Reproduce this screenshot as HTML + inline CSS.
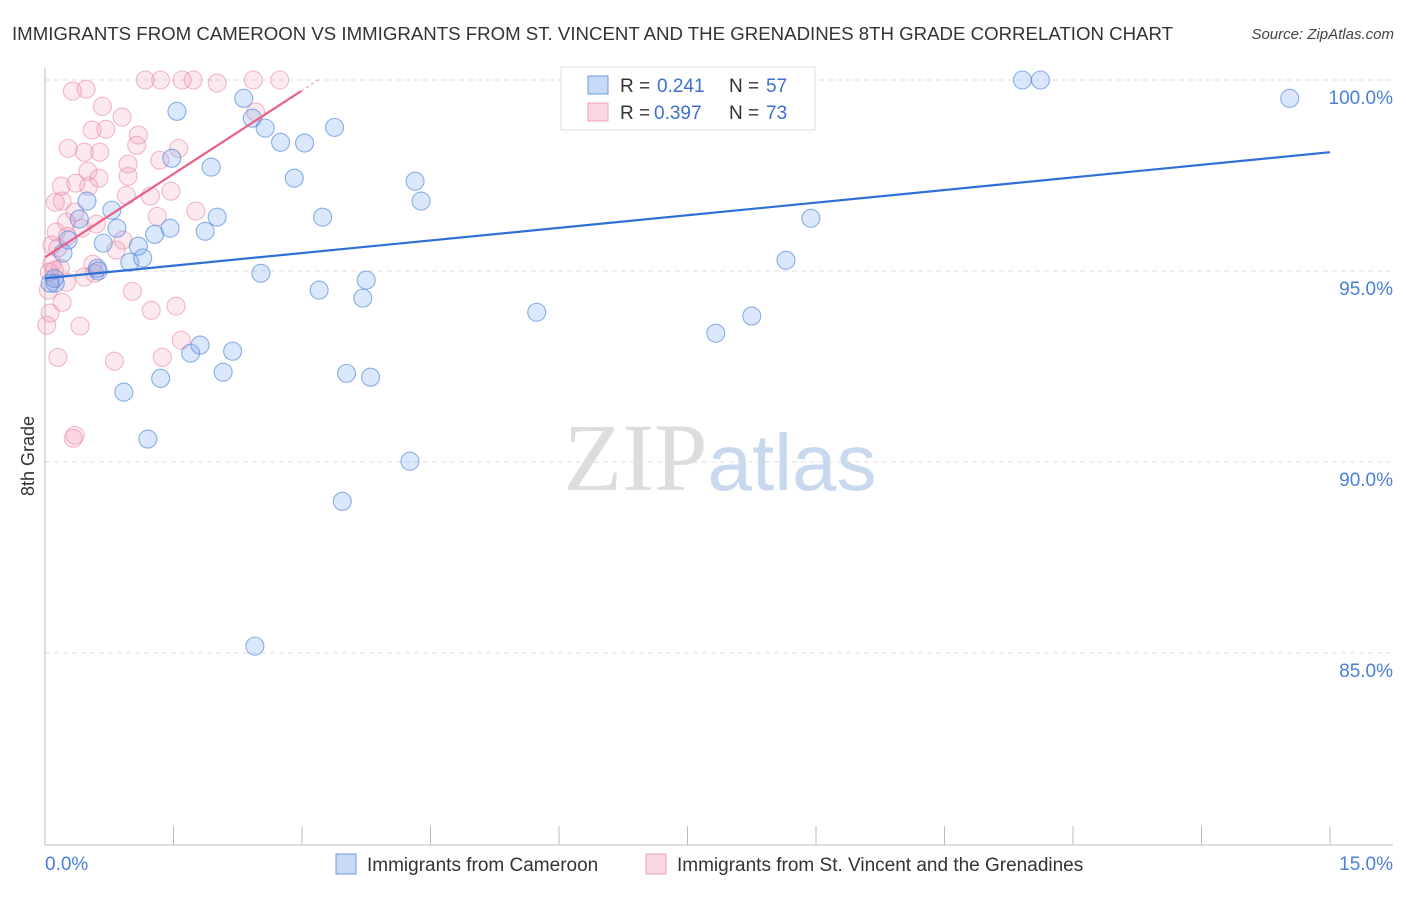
<!DOCTYPE html>
<html><head><meta charset="utf-8"><style>
body{margin:0;background:#fff;font-family:"Liberation Sans",sans-serif}
svg text{font-family:"Liberation Sans",sans-serif}
</style></head><body>
<svg id="chart" width="1406" height="892" viewBox="0 0 1406 892">
<text x="12" y="40" font-size="18.5" fill="#333" textLength="1161" lengthAdjust="spacingAndGlyphs">IMMIGRANTS FROM CAMEROON VS IMMIGRANTS FROM ST. VINCENT AND THE GRENADINES 8TH GRADE CORRELATION CHART</text>
<text x="1394" y="39" font-size="15" fill="#444" font-style="italic" text-anchor="end">Source: ZipAtlas.com</text>
<text x="720" y="490" font-size="96" text-anchor="middle"><tspan fill="#ddd" font-family="Liberation Serif">ZIP</tspan><tspan fill="#c8d8ef" font-size="80">atlas</tspan></text>
<g id="grid"></g><g id="axes"></g><g id="pts"></g><g id="lines"></g>
<text transform="translate(34,456) rotate(-90)" font-size="18" fill="#333" text-anchor="middle">8th Grade</text>
<g>
<rect x="561" y="67" width="254" height="63" fill="#fff" stroke="#ddd"/>
<rect x="588" y="76" width="20" height="18" fill="rgba(100,150,230,0.35)" stroke="#6a9be0"/>
<text x="620" y="92" font-size="19" fill="#333">R =</text><text x="657" y="92" font-size="19" fill="#3b6fd0">0.241</text>
<text x="729" y="92" font-size="19" fill="#333">N =</text><text x="766" y="92" font-size="19" fill="#3b6fd0">57</text>
<rect x="588" y="103" width="20" height="18" fill="rgba(240,140,170,0.35)" stroke="#f0a0b8"/>
<text x="620" y="119" font-size="19" fill="#333">R =</text><text x="654" y="119" font-size="19" fill="#3b6fd0">0.397</text>
<text x="729" y="119" font-size="19" fill="#333">N =</text><text x="766" y="119" font-size="19" fill="#3b6fd0">73</text>
</g>
<g>
<rect x="336" y="854" width="20" height="20" fill="rgba(100,150,230,0.35)" stroke="#6a9be0"/>
<text x="367" y="871" font-size="19" fill="#333">Immigrants from Cameroon</text>
<rect x="646" y="854" width="20" height="20" fill="rgba(240,140,170,0.35)" stroke="#f0a0b8"/>
<text x="677" y="871" font-size="19" fill="#333">Immigrants from St. Vincent and the Grenadines</text>
</g>
</svg>
<script>
const blueX=[0.12,0.27,0.49,0.68,0.78,0.84,0.99,1.09,1.14,1.28,1.46,1.48,1.54,1.94,1.87,2.01,2.32,2.42,2.57,2.75,3.03,2.91,3.38,3.24,2.52,3.20,3.71,3.75,4.32,4.39,5.74,7.83,8.25,8.65,8.94,11.41,11.62,14.53,0.92,1.35,1.70,1.81,2.08,2.19,1.20,3.52,3.80,4.26,3.47,2.45,0.61,0.21,0.40,0.11,0.62,0.06];
const blueY=[94.68,95.81,96.83,95.73,96.59,96.12,95.23,95.65,95.34,95.96,96.12,97.95,99.18,97.72,96.04,96.41,99.52,99.00,98.74,98.37,98.35,97.43,98.76,96.41,94.94,94.50,94.29,94.76,97.35,96.83,93.92,93.37,93.82,95.28,96.38,100.0,100.0,99.52,91.83,92.19,92.85,93.06,92.35,92.90,90.60,92.32,92.22,90.02,88.97,85.18,95.07,95.47,96.36,94.81,95.00,94.68];
const pinkX=[1.17,1.35,1.60,1.73,2.43,2.74,0.32,0.48,0.67,0.90,0.55,0.71,1.09,1.07,0.27,0.46,0.64,0.97,1.34,1.56,0.19,0.36,0.51,0.63,0.50,0.97,0.95,1.23,1.47,1.76,1.31,0.20,0.12,0.35,0.25,0.60,0.43,0.13,0.26,0.08,0.15,0.91,0.83,0.08,0.18,0.56,0.05,0.25,0.58,1.02,1.24,1.53,0.20,0.06,0.02,0.41,1.59,1.37,0.15,0.81,0.35,0.33,2.46,2.01,0.04,0.11,0.46];
const pinkY=[100,100,100,100,100,100,99.71,99.76,99.31,99.03,98.69,98.71,98.56,98.29,98.21,98.11,98.11,97.80,97.90,98.21,97.22,97.30,97.22,97.43,97.61,97.48,96.98,96.96,97.09,96.57,96.43,96.83,96.80,96.54,96.28,96.23,96.12,96.02,95.91,95.68,95.60,95.81,95.55,95.20,95.07,95.18,94.97,94.71,94.94,94.47,93.97,94.08,94.18,93.90,93.58,93.56,93.19,92.74,92.74,92.64,90.70,90.62,99.16,99.92,94.50,95.02,94.84];
const blueTrend=[94.81,98.11]; // y at x=0, x=15
const pinkTrend=[95.36,99.71,2.99]; // y at 0, y at end, end x
const yTicks=[100,95,90,85];
const xTickCount=11;
const NS="http://www.w3.org/2000/svg";
const X=v=>45+v/15*1285, Y=v=>80+(100-v)*38.2;
function mk(tag,attrs,parent){const e=document.createElementNS(NS,tag);for(const k in attrs)e.setAttribute(k,attrs[k]);parent.appendChild(e);return e;}
const grid=document.getElementById('grid'),axes=document.getElementById('axes'),pts=document.getElementById('pts'),lines=document.getElementById('lines');
yTicks.forEach(t=>{
 const l=mk('line',{x1:45,x2:1393,y1:Y(t),y2:Y(t),stroke:'#ddd','stroke-dasharray':'5,4'},grid);
 
 
 const tx=mk('text',{x:1393,y:Y(t)+24,'font-size':19,fill:'#4a7fd6','text-anchor':'end'},axes);
 tx.textContent=t.toFixed(1)+'%';
 
 
});
const ya=mk('line',{x1:45,x2:45,y1:68,y2:845,stroke:'#bbb'},axes);


const xa=mk('line',{x1:45,x2:1393,y1:845,y2:845,stroke:'#bbb'},axes);


for(let i=0;i<xTickCount;i++){const v=i*1.5;const t=mk('line',{x1:X(v),x2:X(v),y1:826,y2:845,stroke:'#bbb'},axes);
 
 }
[[0,'0.0%','start',45],[15,'15.0%','end',1393]].forEach(a=>{const t=mk('text',{x:a[3],y:870,'font-size':19,fill:'#4a7fd6','text-anchor':a[2]},axes);t.textContent=a[1];
 
 });
function dots(xs,ys,fill,stroke,name){xs.forEach((x,i)=>{const c=mk('circle',{cx:X(x),cy:Y(ys[i]),r:9,fill:fill,stroke:stroke,'stroke-width':1.1},pts);
 
 });}
dots(pinkX,pinkY,'rgba(240,150,180,0.22)','rgba(235,140,170,0.6)','st-vincent-point');
dots(blueX,blueY,'rgba(110,160,235,0.25)','rgba(80,135,220,0.65)','cameroon-point');
const bl=mk('line',{x1:X(0),y1:Y(blueTrend[0]),x2:X(15),y2:Y(blueTrend[1]),stroke:'#2f6fd6','stroke-width':2.2},lines);


const pl=mk('line',{x1:X(0),y1:Y(pinkTrend[0]),x2:X(pinkTrend[2]),y2:Y(pinkTrend[1]),stroke:'#e8608a','stroke-width':2.2},lines);


const slope=(pinkTrend[1]-pinkTrend[0])/pinkTrend[2];
const pd=mk('line',{x1:X(pinkTrend[2]),y1:Y(pinkTrend[1]),x2:X(pinkTrend[2]+0.2),y2:Y(pinkTrend[1]+slope*0.2),stroke:'#f0a0b8','stroke-width':1.2,'stroke-dasharray':'3,3'},lines);


</script>
</body></html>
